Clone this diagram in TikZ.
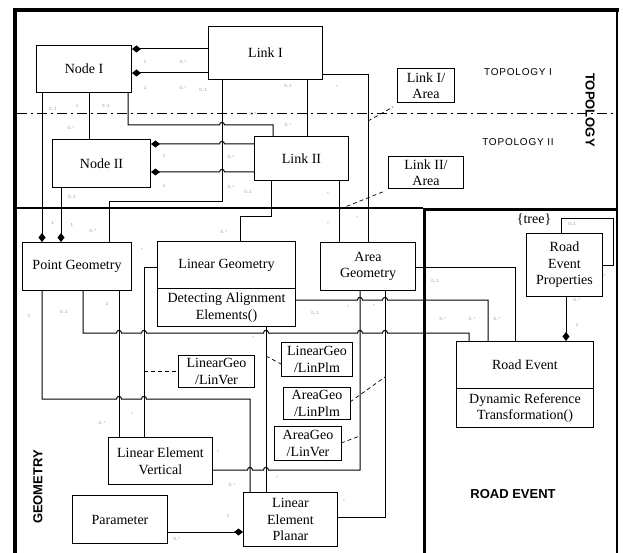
\documentclass[tikz,border=0pt]{standalone}
\usepackage{fontspec}
\setmainfont{Liberation Serif}
\newfontfamily\lblfont[LetterSpace=8]{Liberation Sans}
\newfontfamily\multfont{Liberation Sans}
\usetikzlibrary{arrows.meta}
\begin{document}
\begin{tikzpicture}[x=1pt,y=-1pt,
  box/.style={draw,line width=1pt,inner sep=0pt,align=center,anchor=north west,
              font=\fontsize{14}{16.5}\selectfont},
  conn/.style={line width=1pt},
  dia/.style={conn,-{Diamond[length=9pt,width=7pt]}},
  assoc/.style={line width=0.7pt,dash pattern=on 4pt off 3pt},
  mult/.style={font=\multfont\fontsize{4.5}{5}\selectfont,text=black!40,inner sep=0pt},
  region/.style={font=\lblfont\fontsize{10}{10}\selectfont,inner sep=0pt},
  bigregion/.style={font=\multfont\bfseries\fontsize{13}{13}\selectfont,inner sep=0pt},
]
\useasboundingbox (0,0) rectangle (623,553);

% ---------- frame ----------
\draw[line width=4pt] (13,10.5) -- (619,10.5);
\draw[line width=4.5pt] (15,8.5) -- (15,553);
\draw[line width=2.5pt] (617,9) -- (617,553);
\draw[line width=1.3pt] (15,208) -- (423,208);
\draw[line width=1pt,dash pattern=on 10pt off 4pt on 2pt off 4pt] (17,114) -- (616,114);
\draw[line width=3pt] (424,553) -- (424,209.5) -- (618,209.5);

% ---------- region labels ----------
\node[region] (topI) at (518,72) {TOPOLOGY I};
\node[region] (topII) at (518,142) {TOPOLOGY II};
\node[bigregion,rotate=-90] (topo) at (590,110) {TOPOLOGY};
\node[bigregion,rotate=90] (geo) at (38,487) {GEOMETRY};
\node[bigregion] (revt) at (513,494) {ROAD EVENT};

% ---------- classes ----------
\node[box,minimum width=95,minimum height=47] (NI) at (36,45) {Node I};
\node[box,minimum width=114,minimum height=53] (LI) at (208,26) {Link I};
\node[box,minimum width=98,minimum height=48] (NII) at (52,139) {Node II};
\node[box,minimum width=94,minimum height=44] (LII) at (254,136) {Link II};
\node[box,minimum width=57,minimum height=34] (LIA) at (397,68) {Link I/\\Area};
\node[box,minimum width=75,minimum height=32] (LIIA) at (388,156) {Link II/\\Area};

\node[box,minimum width=109,minimum height=48] (PG) at (22,242) {Point Geometry};
\node[box,minimum width=138,minimum height=47] (LG) at (157,241) {Linear Geometry};
\node[box,minimum width=138,minimum height=38] (LGm) at (157,288) {Detecting Alignment\\Elements()};
\node[box,minimum width=95,minimum height=48] (AG) at (320,242) {Area\\Geometry};
\node[box,minimum width=76,minimum height=63] (REP) at (526,233) {Road\\Event\\Properties};
\node[font=\fontsize{14}{14}\selectfont,inner sep=0pt] (tree) at (534,220) {\{tree\}};
\node[box,minimum width=137,minimum height=47] (RE) at (456,341) {Road Event};
\node[box,minimum width=137,minimum height=39] (REm) at (456,388) {Dynamic Reference\\Transformation()};

\node[box,minimum width=76,minimum height=32] (LGLV) at (178,355) {LinearGeo\\/LinVer};
\node[box,minimum width=71,minimum height=34] (LGLP) at (281,342) {LinearGeo\\/LinPlm};
\node[box,minimum width=67,minimum height=32] (AGLP) at (283,387) {AreaGeo\\/LinPlm};
\node[box,minimum width=67,minimum height=34] (AGLV) at (274,426) {AreaGeo\\/LinVer};
\node[box,minimum width=104,minimum height=47] (LEV) at (108,437) {Linear Element\\Vertical};
\node[box,minimum width=95,minimum height=48] (PAR) at (72,495) {Parameter};
\node[box,minimum width=94,minimum height=54] (LEP) at (243,492) {Linear\\Element\\Planar};

% ---------- topology connectors ----------
\draw[dia] (LI.west |- 0,49) -- (NI.east |- 0,49);
\draw[dia] (LI.west |- 0,73) -- (NI.east |- 0,73);
\draw[dia] (42,0 |- NI.south) -- (42,0 |- PG.north);
\draw[dia] (61,0 |- NII.south) -- (61,0 |- PG.north);
\draw[conn] (89,0 |- NI.south) -- (89,0 |- NII.north);
\draw[conn] (128,0 |- NI.south) -- (128,125) -- (219.5,125)
  .. controls (219.5,121.5) and (224.5,121.5) .. (224.5,125) -- (273,125) -- (273,0 |- LII.north);
\draw[conn] (222,0 |- LI.south) -- (222,202) -- (109,202) -- (109,0 |- PG.north);
\draw[dia] (LII.west |- 0,144) -- (224.5,144)
  .. controls (224.5,140.5) and (219.5,140.5) .. (219.5,144) -- (NII.east |- 0,144);
\draw[dia] (LII.west |- 0,172) -- (224.5,172)
  .. controls (224.5,168.5) and (219.5,168.5) .. (219.5,172) -- (NII.east |- 0,172);
\draw[conn] (307,0 |- LI.south) -- (307,0 |- LII.north);
\draw[conn] (LI.east |- 0,75) -- (368,75) -- (368,0 |- AG.north);
\draw[conn] (339,0 |- LII.south) -- (339,0 |- AG.north);
\draw[conn] (271,0 |- LII.south) -- (271,217) -- (240,217) -- (240,0 |- LG.north);

\coordinate (a1) at (368,121);
\coordinate (a2) at (393,107);
\draw[assoc] (a1) -- (a2);
\coordinate (a3) at (340,209);
\coordinate (a4) at (385,191);
\draw[assoc] (a3) -- (a4);

% ---------- geometry connectors ----------
\draw[conn] (42,0 |- PG.south) -- (42,399) -- (116.5,399)
  .. controls (116.5,395.5) and (121.5,395.5) .. (121.5,399) -- (141.5,399)
  .. controls (141.5,395.5) and (146.5,395.5) .. (146.5,399) -- (250,399) -- (250,0 |- LEP.north);
\draw[conn] (119,0 |- PG.south) -- (119,0 |- LEV.north);
\draw[conn] (83,0 |- PG.south) -- (83,333) -- (116.5,333)
  .. controls (116.5,329.5) and (121.5,329.5) .. (121.5,333) -- (141.5,333)
  .. controls (141.5,329.5) and (146.5,329.5) .. (146.5,333) -- (263.5,333)
  .. controls (263.5,329.5) and (268.5,329.5) .. (268.5,333) -- (357.5,333)
  .. controls (357.5,329.5) and (362.5,329.5) .. (362.5,333) -- (382.5,333)
  .. controls (382.5,329.5) and (387.5,329.5) .. (387.5,333) -- (469,333) -- (469,0 |- RE.north);
\draw[conn] (LG.west |- 0,267) -- (144,267) -- (144,0 |- LEV.north);
\draw[conn] (266,0 |- LGm.south) -- (266,0 |- LEP.north);
\draw[conn] (LGm.east |- 0,300) -- (357.5,300)
  .. controls (357.5,296.5) and (362.5,296.5) .. (362.5,300) -- (382.5,300)
  .. controls (382.5,296.5) and (387.5,296.5) .. (387.5,300) -- (488,300) -- (488,0 |- RE.north);
\draw[conn] (AG.east |- 0,267) -- (515,267) -- (515,0 |- RE.north);
\draw[conn] (360,0 |- AG.south) -- (360,470) -- (268.5,470)
  .. controls (268.5,466.5) and (263.5,466.5) .. (263.5,470) -- (252.5,470)
  .. controls (252.5,466.5) and (247.5,466.5) .. (247.5,470) -- (LEV.east |- 0,470);
\draw[conn] (385,0 |- AG.south) -- (385,517) -- (LEP.east |- 0,517);
\draw[dia] (PAR.east |- 0,532) -- (LEP.west |- 0,532);
\draw[dia] (566,0 |- REP.south) -- (566,0 |- RE.north);
\draw[conn] (561,0 |- REP.north) -- (561,219) -- (613,219) -- (613,265) -- (REP.east |- 0,265);

\coordinate (b1) at (144,371);
\draw[assoc] (b1) -- (LGLV.west |- b1);
\coordinate (b2) at (266,356);
\coordinate (b3) at (281,364);
\draw[assoc] (b2) -- (b3);
\coordinate (b4) at (350,402);
\coordinate (b5) at (385,377);
\draw[assoc] (b4) -- (b5);
\coordinate (b6) at (341,443);
\coordinate (b7) at (360,436);
\draw[assoc] (b6) -- (b7);

% ---------- multiplicities ----------
\node[mult] (m1) at (145,62) {1};
\node[mult] (m2) at (183,62) {0..*};
\node[mult] (m3) at (145,88) {1};
\node[mult] (m4) at (183,88) {0..*};
\node[mult] (m5) at (203,90) {0..1};
\node[mult] (m6) at (53,109) {0..1};
\node[mult] (m7) at (77,106) {1};
\node[mult] (m8) at (106,106) {0..1};
\node[mult] (m9) at (71,128) {0..*};
\node[mult] (m10) at (253,114) {0..*};
\node[mult] (m11) at (288,86) {0..1};
\node[mult] (m12) at (288,125) {0..*};
\node[mult] (m13) at (164,156) {1};
\node[mult] (m14) at (231,157) {0..*};
\node[mult] (m15) at (164,186) {1};
\node[mult] (m16) at (231,187) {0..*};
\node[mult] (m17) at (248,192) {0..1};
\node[mult] (m18) at (72,197) {0..1};
\node[mult] (m19) at (337,87) {*};
\node[mult] (m20) at (328,194) {*};
\node[mult] (m21) at (53,223) {1};
\node[mult] (m22) at (72,225) {1};
\node[mult] (m23) at (93,231) {0..*};
\node[mult] (m24) at (224,232) {0..*};
\node[mult] (m25) at (328,224) {*};
\node[mult] (m26) at (357,218) {*};
\node[mult] (m27) at (142,250) {*};
\node[mult] (m28) at (29,316) {2};
\node[mult] (m29) at (64,312) {0..1};
\node[mult] (m30) at (107,304) {2};
\node[mult] (m31) at (253,338) {*};
\node[mult] (m32) at (315,313) {0..1};
\node[mult] (m33) at (348,307) {*};
\node[mult] (m34) at (374,306) {*};
\node[mult] (m35) at (435,281) {0..1};
\node[mult] (m36) at (443,319) {0..*};
\node[mult] (m37) at (472,319) {0..*};
\node[mult] (m38) at (497,319) {0..*};
\node[mult] (m39) at (572,224) {0..1};
\node[mult] (m40) at (605,276) {*};
\node[mult] (m41) at (577,300) {0..*};
\node[mult] (m42) at (577,325) {1};
\node[mult] (m43) at (132,414) {*};
\node[mult] (m44) at (102,423) {0..*};
\node[mult] (m45) at (218,452) {*};
\node[mult] (m46) at (232,485) {0..*};
\node[mult] (m47) at (277,478) {*};
\node[mult] (m48) at (228,516) {1};
\node[mult] (m49) at (177,539) {0..*};
\node[mult] (m50) at (344,501) {*};
\end{tikzpicture}
\end{document}
